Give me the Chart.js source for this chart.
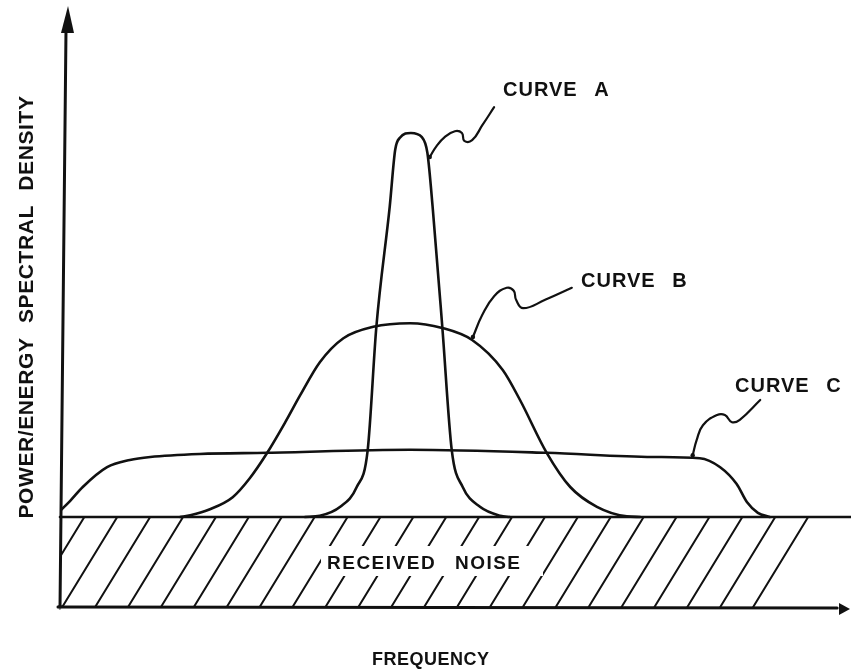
<!DOCTYPE html>
<html>
<head>
<meta charset="utf-8">
<script src="https://cdn.jsdelivr.net/npm/chart.js@4.4.1/dist/chart.umd.min.js"></script>
<style>
  html, body { margin: 0; padding: 0; background: #fff; }
  #wrap { width: 851px; height: 672px; }
</style>
</head>
<body>
<div id="wrap"><canvas id="spectrum" width="851" height="672"></canvas></div>
<script>
// frequency runs 0..100 along the axis, density 0..100 up the axis
const noiseLevel = 15.0;

const curveAFreq  = [31.2, 33.1, 35.7, 37.8, 39.2, 40.3, 42.0, 42.7, 43.3, 44.7, 46.1, 46.8, 47.5, 48.7, 49.9, 51.3, 53.5, 56.1, 57.3];
const curveAPower = [15.0, 15.2, 16.7, 20.0, 26.2, 46.7, 66.7, 76.2, 78.2, 79.0, 78.3, 75.7, 66.2, 46.7, 26.2, 20.0, 16.7, 15.2, 15.0];

const curveBFreq  = [15.3, 16.6, 19.1, 22.0, 24.2, 26.4, 28.7, 30.6, 33.1, 36.1, 39.9, 44.6, 48.7, 52.5, 56.4, 58.6, 62.0, 65.0, 68.4, 72.2, 73.9];
const curveBPower = [15.0, 15.3, 16.3, 18.3, 21.5, 25.7, 30.8, 35.3, 40.8, 44.8, 46.7, 47.3, 46.5, 44.5, 39.5, 34.5, 25.7, 20.0, 16.7, 15.1, 15.0];

const curveCFreq  = [0.0, 1.3, 2.9, 6.0, 8.9, 11.5, 17.8, 26.4, 44.6, 62.0, 75.5, 81.5, 84.1, 86.2, 87.5, 88.9, 90.4];
const curveCPower = [16.0, 17.7, 20.0, 23.3, 24.5, 25.0, 25.5, 25.7, 26.2, 25.7, 25.0, 24.8, 23.3, 20.5, 17.5, 15.7, 15.0];

// hand drawn pointers from each label to its curve
const leaderAFreq  = [55.3, 53.8, 52.5, 51.5, 51.2, 50.3, 49.0, 47.9, 47.1];
const leaderAPower = [83.3, 80.3, 77.8, 77.7, 79.0, 79.3, 78.3, 76.7, 75.0];
const leaderBFreq  = [65.2, 61.8, 59.0, 58.1, 57.8, 56.9, 55.3, 53.8, 52.6];
const leaderBPower = [53.2, 51.2, 49.8, 51.2, 52.7, 53.2, 51.8, 48.7, 45.0];
const leaderCFreq  = [89.2, 86.6, 85.6, 84.7, 83.7, 81.9, 81.1, 80.6];
const leaderCPower = [34.5, 31.2, 30.8, 32.0, 32.0, 30.3, 27.8, 25.3];

const noiseFreq  = [0, 100.8];
const noisePower = [noiseLevel, noiseLevel];

const curveNames = ['CURVE A', 'CURVE B', 'CURVE C'];
const noiseName = 'RECEIVED NOISE';
const xTitle = 'FREQUENCY';
const yTitle = 'POWER/ENERGY SPECTRAL DENSITY';

const ink = '#111';
const font = '"Liberation Sans", Arial, sans-serif';

function pairs(xs, ys) {
    return xs.map((x, i) => ({x: x, y: ys[i]}));
}

function curve(xs, ys) {
    return {
        data: pairs(xs, ys),
        borderColor: ink,
        borderWidth: 2.6,
        pointRadius: 0,
        cubicInterpolationMode: 'monotone',
        borderCapStyle: 'round',
        borderJoinStyle: 'round'
    };
}

function leader(xs, ys) {
    return {
        data: pairs(xs, ys),
        borderColor: ink,
        borderWidth: 2.2,
        tension: 0.45,
        pointRadius: xs.map((v, i) => i === xs.length - 1 ? 2.2 : 0),
        pointBackgroundColor: ink,
        pointBorderWidth: 0,
        borderCapStyle: 'round',
        borderJoinStyle: 'round'
    };
}

function drawText(ctx, text, x, y, size, spacing, wordGap) {
    ctx.font = 'bold ' + size + 'px ' + font;
    ctx.letterSpacing = spacing + 'px';
    ctx.wordSpacing = wordGap + 'px';
    ctx.fillText(text, x, y);
}

const sketch = {
    id: 'sketch',
    beforeDatasetsDraw(chart) {
        const {ctx, scales: {x, y}} = chart;
        const top = y.getPixelForValue(noiseLevel);
        const bottom = y.getPixelForValue(0);
        const left = x.getPixelForValue(0);

        // hatching of the noise band
        ctx.save();
        ctx.beginPath();
        ctx.rect(left, top, chart.width - left, bottom - top);
        ctx.clip();
        ctx.strokeStyle = ink;
        ctx.lineWidth = 2;
        ctx.lineCap = 'round';
        ctx.beginPath();
        const slant = 55, gap = 32.9;
        for (let b = x.getPixelForValue(88.3); b + slant > left; b -= gap) {
            ctx.moveTo(b, bottom);
            ctx.lineTo(b + slant, top);
        }
        ctx.stroke();
        ctx.restore();

        ctx.save();
        ctx.fillStyle = '#fff';
        ctx.fillRect(321, 546, 222, 30);
        ctx.fillStyle = ink;
        ctx.textBaseline = 'alphabetic';
        drawText(ctx, noiseName, 327, 569, 19, 1.5, 12);
        ctx.restore();
    },
    afterDatasetsDraw(chart) {
        const {ctx, scales: {x, y}} = chart;
        const x0 = x.getPixelForValue(0);
        const y0 = y.getPixelForValue(0);
        ctx.save();
        ctx.strokeStyle = ink;
        ctx.fillStyle = ink;
        ctx.lineWidth = 3;
        ctx.lineCap = 'round';

        // axes
        ctx.beginPath();
        ctx.moveTo(x0, y0 + 1);
        ctx.lineTo(x0 + 6, 30);
        ctx.moveTo(x0 - 2, y0);
        ctx.lineTo(x.getPixelForValue(99), y0 + 1);
        ctx.stroke();

        ctx.beginPath();
        ctx.moveTo(x0 + 8, 6);
        ctx.lineTo(x0 + 1, 33);
        ctx.lineTo(x0 + 14, 33);
        ctx.closePath();
        ctx.fill();

        ctx.beginPath();
        ctx.moveTo(850, y0 + 2);
        ctx.lineTo(839, y0 - 4);
        ctx.lineTo(839, y0 + 8);
        ctx.closePath();
        ctx.fill();

        ctx.textBaseline = 'alphabetic';
        drawText(ctx, curveNames[0], 503, 96, 20, 1, 10);
        drawText(ctx, curveNames[1], 581, 287, 20, 1, 10);
        drawText(ctx, curveNames[2], 735, 392, 20, 1, 10);
        drawText(ctx, xTitle, 372, 665, 18, 0.5, 0);

        ctx.translate(33, 307);
        ctx.rotate(-Math.PI / 2);
        ctx.textAlign = 'center';
        drawText(ctx, yTitle, 0, 0, 21, 0.6, 8);
        ctx.restore();
    }
};

new Chart(document.getElementById('spectrum'), {
    type: 'line',
    data: {
        datasets: [
            Object.assign(curve(noiseFreq, noisePower), {clip: false, tension: 0}),
            curve(curveCFreq, curveCPower),
            curve(curveBFreq, curveBPower),
            curve(curveAFreq, curveAPower),
            leader(leaderAFreq, leaderAPower),
            leader(leaderBFreq, leaderBPower),
            leader(leaderCFreq, leaderCPower)
        ]
    },
    options: {
        responsive: false,
        animation: false,
        parsing: false,
        layout: {padding: {left: 60, right: 6, top: 7, bottom: 65}},
        scales: {
            x: {type: 'linear', min: 0, max: 100, display: false},
            y: {type: 'linear', min: 0, max: 100, display: false}
        },
        plugins: {
            legend: {display: false},
            tooltip: {enabled: false}
        }
    },
    plugins: [sketch]
});
</script>
</body>
</html>
